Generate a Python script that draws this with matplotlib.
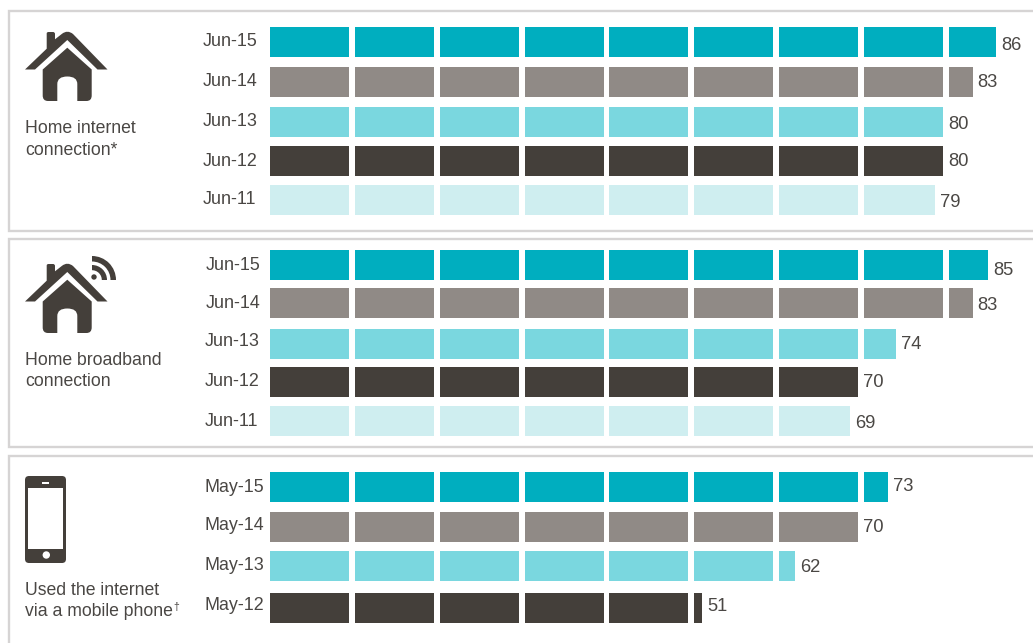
import matplotlib
matplotlib.use("Agg")
import matplotlib.pyplot as plt
from matplotlib.patches import Rectangle, Circle, Wedge, FancyBboxPatch, PathPatch
from matplotlib.path import Path

# Values, one list per panel (newest first)
dates_internet = ["Jun-15", "Jun-14", "Jun-13", "Jun-12", "Jun-11"]
home_internet = [86, 83, 80, 80, 79]
dates_broadband = ["Jun-15", "Jun-14", "Jun-13", "Jun-12", "Jun-11"]
home_broadband = [85, 83, 74, 70, 69]
dates_mobile = ["May-15", "May-14", "May-13", "May-12"]
mobile_internet = [73, 70, 62, 51]
panel_titles = ["Home internet\nconnection*", "Home broadband\nconnection",
                "Used the internet\nvia a mobile phone"]

# Colours
row_colors = ["#00aebf", "#908a86", "#7ad7df", "#443f3a", "#cfeef0"]
text_color = "#4a4744"
icon_color = "#443f3a"
frame_color = "#d6d4d4"

# Layout in pixels: the bars are blocks of 10 units
x0 = 270
seg_pitch = 84.87
seg_w = 79
bar_h = 30
date_size = 12.9
value_size = 13.2
title_size = 12.7

panels = [
    {"dates": dates_internet, "values": home_internet,
     "bar_top": [27, 67, 107, 146, 185],
     "date_x": [203] * 5, "date_y": [41, 81, 120, 160, 199],
     "val_y": [44, 81, 123, 160, 201], "title_y": (127, 149)},
    {"dates": dates_broadband, "values": home_broadband,
     "bar_top": [250, 288, 329, 367, 406],
     "date_x": [206, 206, 205, 205, 205], "date_y": [265, 303, 341, 381, 420],
     "val_y": [269, 304, 343, 381, 422], "title_y": (359, 380)},
    {"dates": dates_mobile, "values": mobile_internet,
     "bar_top": [472, 512, 551, 593],
     "date_x": [205] * 4, "date_y": [486, 525, 565, 605],
     "val_y": [485, 526, 566, 605], "title_y": (589, 610)},
]


def draw_segments(ax, value, top, color):
    # one block per 10 units, the last one cut to the remainder
    full = value // 10
    rest = value % 10
    lefts = [x0 + i * seg_pitch for i in range(full)]
    widths = [seg_w] * full
    if rest:
        lefts.append(x0 + full * seg_pitch)
        widths.append(seg_w * rest / 10)
    ax.barh([top + bar_h / 2] * len(lefts), widths, left=lefts, height=bar_h,
            color=color, linewidth=0)
    return lefts[-1] + widths[-1]


def draw_house(ax, dy):
    C = Path.CURVE3
    L = Path.LINETO
    M = Path.MOVETO
    # roof with chimney
    roof = [(25, 69.5), (46.7, 48.7), (46.7, 33.5), (46.7, 32), (48.5, 32), (53, 32),
            (55, 32), (55, 34), (55, 39.3), (62, 33.8), (67.5, 29.5), (73, 34),
            (107.5, 69.5), (97.5, 69.5), (67.3, 40), (35, 69.5), (25, 69.5)]
    codes = [M, L, L, C, C, L, C, C, L, L, C, C, L, L, L, L, Path.CLOSEPOLY]
    ax.add_patch(PathPatch(Path([(x, y + dy) for x, y in roof], codes),
                           facecolor=icon_color, edgecolor="none"))
    # body with the door cut out
    body = [(67.3, 47.7), (42.7, 69.5), (42.7, 95.5), (42.7, 101), (48, 101), (57.3, 101),
            (57.3, 84), (57.3, 76.5), (67.3, 76.5), (77.3, 76.5), (77.3, 84),
            (77.3, 101), (86.5, 101), (91.7, 101), (91.7, 95.5), (91.7, 69.5), (67.3, 47.7)]
    codes = [M, L, L, C, C, L, L, C, C, C, C, L, L, C, C, L, Path.CLOSEPOLY]
    ax.add_patch(PathPatch(Path([(x, y + dy) for x, y in body], codes),
                           facecolor=icon_color, edgecolor="none"))


def draw_wifi(ax):
    cx, cy = 92, 280
    ax.add_patch(Circle((94, 277), 2.7, color=icon_color, lw=0))
    ax.add_patch(Wedge((cx, cy), 24, 270, 360, width=5.5, color=icon_color, lw=0))
    ax.add_patch(Wedge((cx, cy), 15, 270, 360, width=5.2, color=icon_color, lw=0))


def draw_phone(ax):
    ax.add_patch(FancyBboxPatch((28, 479), 35, 81, boxstyle="round,pad=3,rounding_size=4",
                                facecolor=icon_color, edgecolor="none"))
    ax.add_patch(Rectangle((28, 488), 35, 61, color="white", lw=0))
    ax.add_patch(Rectangle((42, 482), 7, 2, color="white", lw=0))
    ax.add_patch(Circle((46.3, 555), 3.7, color="white", lw=0))


fig = plt.figure(figsize=(10.33, 6.43), dpi=100)
plt.rcParams["font.family"] = ["Liberation Sans", "DejaVu Sans"]
ax = fig.add_axes([0, 0, 1, 1])
ax.set_xlim(0, 1033)
ax.set_ylim(643, 0)
ax.axis("off")

# Panel frames, open at the right edge of the picture
for top, bottom in [(11, 231), (239, 447), (456, 660)]:
    ax.plot([1040, 9, 9, 1040], [top, top, bottom, bottom],
            color=frame_color, linewidth=1.7, solid_joinstyle="miter")

for p, title in zip(panels, panel_titles):
    for i, (date, value) in enumerate(zip(p["dates"], p["values"])):
        end = draw_segments(ax, value, p["bar_top"][i], row_colors[i])
        ax.text(p["date_x"][i], p["date_y"][i] + 5.5, date, fontsize=date_size, color=text_color,
                ha="left", va="baseline")
        ax.text(end + 5, p["val_y"][i] + 6, str(value), fontsize=value_size, color=text_color,
                ha="left", va="baseline")
    line1, line2 = title.split("\n")
    ax.text(25, p["title_y"][0] + 6, line1, fontsize=title_size, color=text_color, ha="left", va="baseline")
    ax.text(25, p["title_y"][1] + 6, line2, fontsize=title_size, color=text_color, ha="left", va="baseline")

# small raised dagger after the third title
ax.text(173.5, 610, "\u2020", fontsize=7.5, color=text_color, ha="left", va="baseline")

draw_house(ax, 0)
draw_house(ax, 232)
draw_wifi(ax)
draw_phone(ax)

fig.savefig("out.png", dpi=100, facecolor="white")
